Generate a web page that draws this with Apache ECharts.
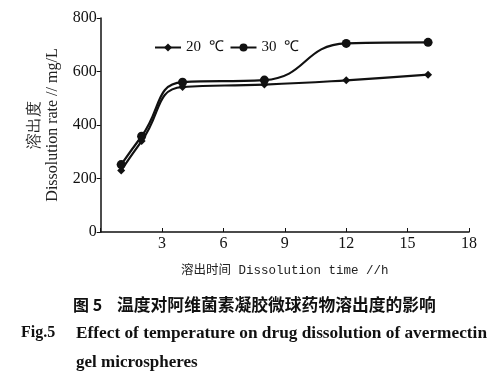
<!DOCTYPE html>
<html><head><meta charset="utf-8">
<script src="https://cdn.jsdelivr.net/npm/echarts@6/dist/echarts.min.js"></script>
<style>html,body{margin:0;padding:0;background:#fff}#c{width:500px;height:376px}</style>
</head><body><div id="c"></div>
<script>
const times = [1, 2, 4, 8, 12, 16];
const series20 = [230, 340, 542, 551, 567, 588];
const series30 = [252, 358, 560, 568, 705, 709];
const seriesNames = ['20  ℃', '30  ℃'];
const xTicks = [0, 3, 6, 9, 12, 15, 18];
const yTicks = [0, 200, 400, 600, 800];

const chart = echarts.init(document.getElementById('c'), null, {renderer: 'canvas'});
const serif = '"Liberation Serif", "Times New Roman", serif';
const cjk = '"Noto Sans CJK SC", sans-serif';
chart.setOption({
  animation: false,
  backgroundColor: '#fff',
  legend: {
    left: 149, top: 35,
    itemWidth: 26, itemHeight: 10, itemGap: 6,
    textStyle: {fontFamily: serif, fontSize: 15, color: '#111'},
    data: seriesNames
  },
  grid: {left: 100.7, right: 31, top: 18, bottom: 144, containLabel: false},
  xAxis: {
    type: 'value', min: xTicks[0], max: xTicks[xTicks.length - 1], interval: 3,
    axisLine: {lineStyle: {color: '#111', width: 1.5}},
    axisTick: {inside: true, length: 4, lineStyle: {color: '#111'}},
    splitLine: {show: false},
    axisLabel: {fontFamily: serif, fontSize: 16, color: '#111', margin: 4,
      formatter: v => v === 0 ? '' : String(v)},
    name: '溶出时间 Dissolution time //h', nameLocation: 'middle', nameGap: 32,
    nameTextStyle: {fontFamily: '"Liberation Mono", ' + cjk, fontSize: 12.5, color: '#222'}
  },
  yAxis: {
    type: 'value', min: yTicks[0], max: yTicks[yTicks.length - 1], interval: 200,
    axisLine: {show: true, lineStyle: {color: '#111', width: 1.5}},
    axisTick: {show: true, length: 4, lineStyle: {color: '#111'}},
    splitLine: {show: false},
    axisLabel: {fontFamily: serif, fontSize: 16, color: '#111', margin: 4},
    name: '溶出度\nDissolution rate // mg/L', nameLocation: 'middle', nameGap: 38,
    nameTextStyle: {fontFamily: serif, fontSize: 16, color: '#222', lineHeight: 18}
  },
  series: [
    {name: seriesNames[0], type: 'line', smooth: 0.5,
     data: times.map((t, i) => [t, series20[i]]),
     symbol: 'diamond', symbolSize: 8,
     lineStyle: {color: '#111', width: 2.2}, itemStyle: {color: '#111'}},
    {name: seriesNames[1], type: 'line', smooth: 0.5,
     data: times.map((t, i) => [t, series30[i]]),
     symbol: 'circle', symbolSize: 9,
     lineStyle: {color: '#111', width: 2.2}, itemStyle: {color: '#111'}}
  ],
  graphic: [
    {type: 'text', left: 73, top: 297, style: {text: '图 5', font: 'bold 16px ' + cjk, fill: '#111'}},
    {type: 'text', left: 117, top: 296, style: {text: '温度对阿维菌素凝胶微球药物溶出度的影响', font: 'bold 16.8px ' + cjk, fill: '#111'}},
    {type: 'text', left: 21, top: 325, style: {text: 'Fig.5', font: 'bold 16px ' + serif, fill: '#111'}},
    {type: 'text', left: 76, top: 325, style: {text: 'Effect of temperature on drug dissolution of avermectin', font: 'bold 17.3px ' + serif, fill: '#111'}},
    {type: 'text', left: 76, top: 354, style: {text: 'gel microspheres', font: 'bold 17px ' + serif, fill: '#111'}}
  ]
});
</script></body></html>
